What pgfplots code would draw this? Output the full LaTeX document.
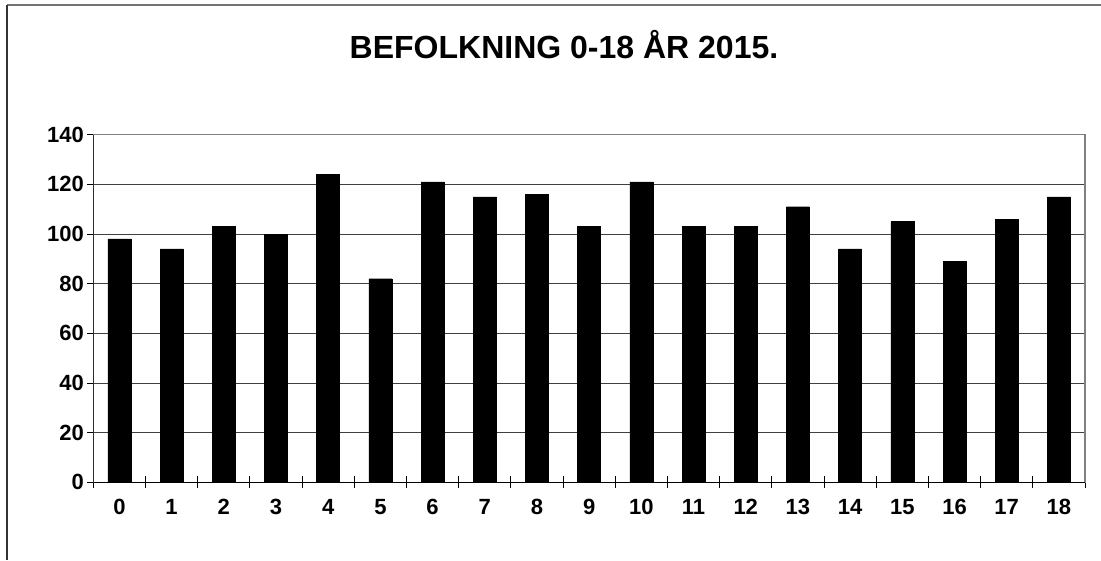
\documentclass[border=0pt]{standalone}
\usepackage{fontspec}
\setmainfont{Liberation Sans}
\usepackage{pgfplots}
\pgfplotsset{compat=1.18}
\begin{document}
\begin{tikzpicture}[x=1pt,y=1pt]
\path[use as bounding box] (0,0) rectangle (1101,560);
\draw[line width=1.5pt,color=black!55] (7,555) -- (1101,555);
\draw[line width=1.5pt,color=black!80] (7,555) -- (7,0);
\node[font=\fontsize{32}{36}\selectfont\bfseries] at (564,515) {BEFOLKNING 0-18 ÅR 2015.};
\begin{axis}[
  at={(93.3pt,77.7pt)}, anchor=south west,
  scale only axis, width=991.7pt, height=347.6pt,
  xmin=-0.5, xmax=18.5, ymin=0, ymax=140,
  ytick={0,20,...,140},
  xtick={0,...,18},
  minor xtick={-0.5,0.5,...,18.5},
  tick pos=left,
  xtick align=center, ytick align=outside,
  major tick length=6pt, minor tick length=12pt,
  xtick style={draw=none},
  minor x tick style={draw=black, line width=0.8pt},
  ytick style={draw=black, line width=0.8pt},
  ymajorgrids, grid style={black!75, line width=0.9pt},
  axis line style={draw=black!50, line width=1.5pt},
  tick label style={font=\fontsize{22}{26}\selectfont\bfseries},
  /pgf/number format/assume math mode=true,
  xticklabel style={text height=16pt, text depth=0pt, yshift=-10pt},
]
\addplot[ybar, bar width=23pt, fill=black, draw=black] coordinates {
(0,98) (1,94) (2,103) (3,100) (4,124) (5,82) (6,121) (7,115) (8,116) (9,103)
(10,121) (11,103) (12,103) (13,111) (14,94) (15,105) (16,89) (17,106) (18,115)
};
\draw[black, line width=1.3pt] (rel axis cs:0,1) -- (rel axis cs:0,0) -- (rel axis cs:1,0);
\end{axis}
\end{tikzpicture}
\end{document}
